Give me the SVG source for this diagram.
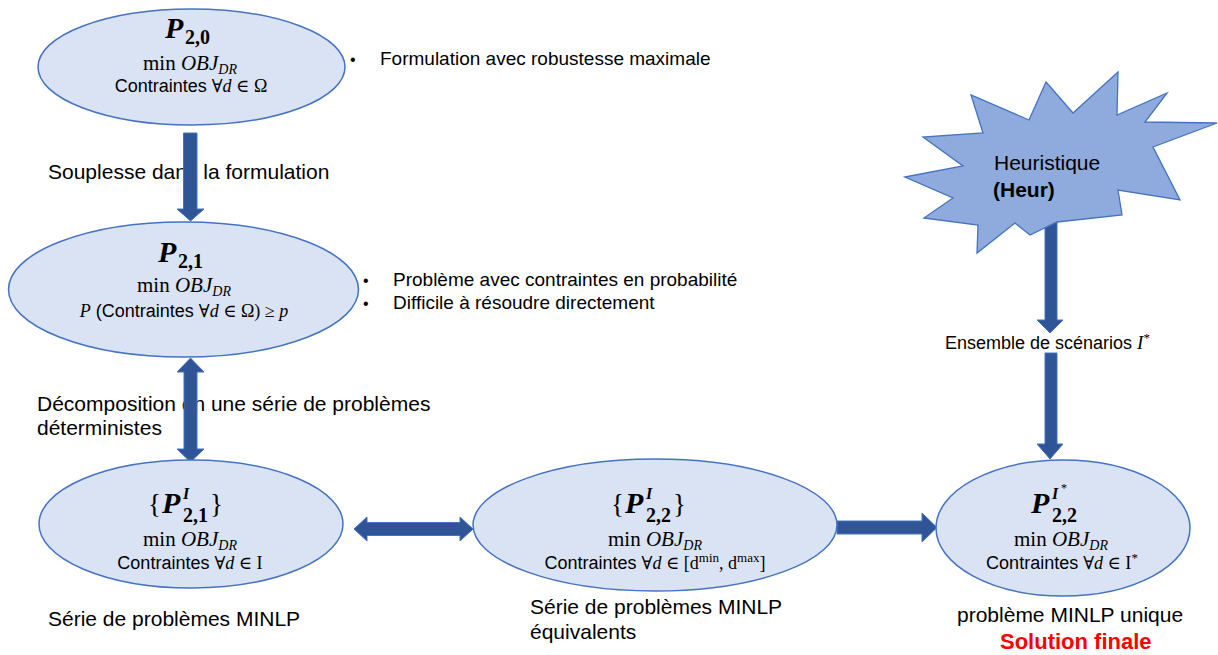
<svg xmlns="http://www.w3.org/2000/svg" width="1218" height="655" viewBox="0 0 1218 655">
<style>
.bg{fill:#ffffff}
.node ellipse{fill:#dae3f3;stroke:#4472c4;stroke-width:1.5}
.star{fill:#8faadc;stroke:#4472c4;stroke-width:1.3}
.arrow{fill:#2f5597;stroke:#4472c4;stroke-width:1}
.t{font-family:"Liberation Sans",Arial,sans-serif;fill:#000}
.m{font-family:"Liberation Serif","DejaVu Serif",serif;fill:#000}
.bi{font-weight:bold;font-style:italic}
.b{font-weight:bold}
.i{font-style:italic}
</style>
<rect class="bg" x="0" y="0" width="1218" height="655"/>

<g id="labels">
  <text class="t" x="48" y="179" font-size="21">Souplesse dans la formulation</text>
  <text class="t" x="37" y="411" font-size="21">Décomposition en une série de problèmes</text>
  <text class="t" x="37" y="435" font-size="21">déterministes</text>
  <text class="t" x="48" y="626" font-size="21">Série de problèmes MINLP</text>
  <text class="t" x="530" y="614" font-size="21">Série de problèmes MINLP</text>
  <text class="t" x="530" y="639" font-size="21">équivalents</text>
  <text class="t" x="957" y="622" font-size="21">problème MINLP unique</text>
  <text class="t b" x="1000" y="649" font-size="22" style="fill:#ff0000">Solution finale</text>
  <text class="t" x="350" y="65" font-size="16">•</text>
  <text class="t" x="380" y="65" font-size="19">Formulation avec robustesse maximale</text>
  <text class="t" x="363" y="286" font-size="16">•</text>
  <text class="t" x="393" y="286" font-size="19">Problème avec contraintes en probabilité</text>
  <text class="t" x="363" y="309" font-size="16">•</text>
  <text class="t" x="393" y="309" font-size="19">Difficile à résoudre directement</text>
  <text class="t" x="945" y="349" font-size="18">Ensemble de scénarios <tspan class="m i" font-size="19">I</tspan><tspan class="m" font-size="13" dy="-7">*</tspan></text>
</g>

<g id="connectors">
  <polygon class="arrow" points="183.5,133 197,133 197,209 204,209 190.5,221 177,209 183.5,209"/>
  <polygon class="arrow" points="190.5,358 204,372 197,372 197,449 204,449 190.5,462 177,449 184,449 184,372 177,372"/>
  <polygon class="arrow" points="354,529 367,517 367,522.5 460,522.5 460,517 473,529 460,541 460,535.5 367,535.5 367,541"/>
  <polygon class="arrow" points="837,521 922,521 922,513 937,527.5 922,542 922,534 837,534"/>
  <polygon class="arrow" points="1045,222 1057,222 1057,320 1063,320 1050,333 1037,320 1045,320"/>
  <polygon class="arrow" points="1045,353 1057,353 1057,444 1063,444 1050,459 1037,444 1045,444"/>
</g>

<g id="P20" class="node">
  <ellipse cx="191.5" cy="67" rx="153.5" ry="58"/>
  <text class="m bi" x="165" y="38" font-size="30">P</text>
  <text class="m b" x="185" y="44" font-size="20">2,0</text>
  <text class="m" x="190" y="70" font-size="21" text-anchor="middle">min <tspan class="i">OBJ</tspan><tspan class="i" font-size="14" dy="4">DR</tspan></text>
  <text class="t" x="191" y="92" font-size="18" text-anchor="middle">Contraintes <tspan class="m">∀<tspan class="i">d</tspan> ∈ Ω</tspan></text>
</g>

<g id="P21" class="node">
  <ellipse cx="183.5" cy="289.5" rx="175" ry="67.5"/>
  <text class="m bi" x="158" y="262" font-size="30">P</text>
  <text class="m b" x="178" y="268" font-size="20">2,1</text>
  <text class="m" x="184" y="292" font-size="21" text-anchor="middle">min <tspan class="i">OBJ</tspan><tspan class="i" font-size="14" dy="4">DR</tspan></text>
  <text class="t" x="184" y="317" font-size="18" text-anchor="middle"><tspan class="m i">P</tspan> (Contraintes <tspan class="m">∀<tspan class="i">d</tspan> ∈ Ω) ≥ <tspan class="i">p</tspan></tspan></text>
</g>

<g id="P21I" class="node">
  <ellipse cx="191" cy="524" rx="152" ry="64"/>
  <text class="m" x="148" y="513" font-size="27">{</text>
  <text class="m bi" x="162" y="513" font-size="30">P</text>
  <text class="m bi" x="183" y="499" font-size="16">I</text>
  <text class="m b" x="183" y="522" font-size="20">2,1</text>
  <text class="m" x="210" y="513" font-size="27">}</text>
  <text class="m" x="190" y="546" font-size="21" text-anchor="middle">min <tspan class="i">OBJ</tspan><tspan class="i" font-size="14" dy="4">DR</tspan></text>
  <text class="t" x="190" y="569" font-size="18" text-anchor="middle">Contraintes <tspan class="m">∀<tspan class="i">d</tspan> ∈ I</tspan></text>
</g>

<g id="P22I" class="node">
  <ellipse cx="655" cy="525" rx="182" ry="66"/>
  <text class="m" x="611" y="513" font-size="27">{</text>
  <text class="m bi" x="625" y="513" font-size="30">P</text>
  <text class="m bi" x="646" y="499" font-size="16">I</text>
  <text class="m b" x="646" y="522" font-size="20">2,2</text>
  <text class="m" x="673" y="513" font-size="27">}</text>
  <text class="m" x="655" y="546" font-size="21" text-anchor="middle">min <tspan class="i">OBJ</tspan><tspan class="i" font-size="14" dy="4">DR</tspan></text>
  <text class="t" x="655" y="569" font-size="18" text-anchor="middle">Contraintes <tspan class="m">∀<tspan class="i">d</tspan> ∈ [d<tspan font-size="13" dy="-7">min</tspan><tspan dy="7">, d</tspan><tspan font-size="13" dy="-7">max</tspan><tspan dy="7">]</tspan></tspan></text>
</g>

<g id="P22Istar" class="node">
  <ellipse cx="1063" cy="528" rx="127" ry="68"/>
  <text class="m bi" x="1031" y="513" font-size="30">P</text>
  <text class="m bi" x="1052" y="499" font-size="16">I</text>
  <text class="m" x="1061" y="492" font-size="12">*</text>
  <text class="m b" x="1052" y="522" font-size="20">2,2</text>
  <text class="m" x="1061" y="546" font-size="21" text-anchor="middle">min <tspan class="i">OBJ</tspan><tspan class="i" font-size="14" dy="4">DR</tspan></text>
  <text class="t" x="1062" y="569" font-size="18" text-anchor="middle">Contraintes <tspan class="m">∀<tspan class="i">d</tspan> ∈ I<tspan font-size="13" dy="-7">*</tspan></tspan></text>
</g>

<g id="Heur">
  <polygon class="star" points="905,177 963,166 923,137 983,133 971,95 1029,120 1046,82 1073,113 1118,72 1117,115 1167,93 1145,122 1217,123 1153,147 1180,200 1118,190 1122,215 1057,222 1030,235 1015,223 977,253 978,225 924,218 953,198"/>
  <text class="t" x="994" y="170" font-size="21">Heuristique</text>
  <text class="t b" x="993" y="197" font-size="21">(Heur)</text>
</g>
</svg>
